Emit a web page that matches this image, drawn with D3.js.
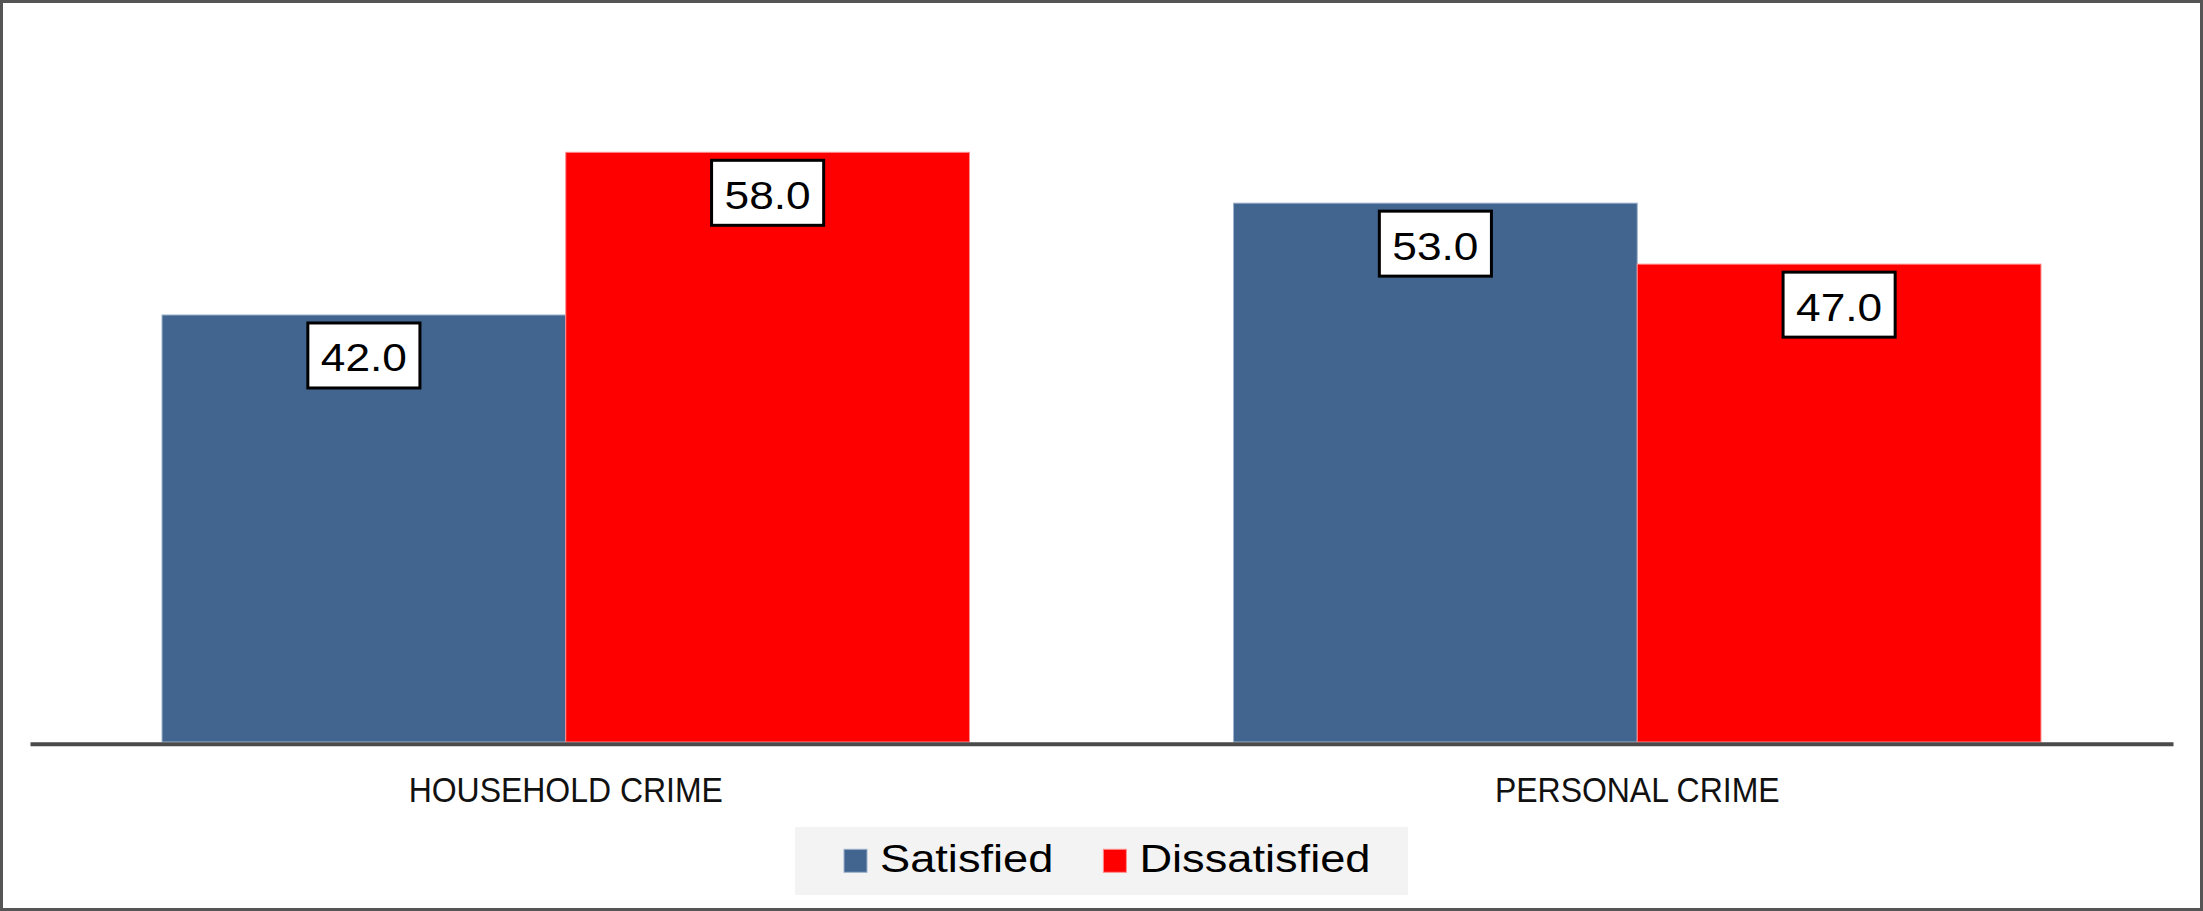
<!DOCTYPE html>
<html>
<head>
<meta charset="utf-8">
<script src="https://cdn.jsdelivr.net/npm/d3@7/dist/d3.min.js"></script>
<style>
  html, body { margin: 0; padding: 0; background: #ffffff; }
  svg { display: block; }
  text { font-family: "Liberation Sans", Arial, sans-serif; }
</style>
</head>
<body>
<svg id="chart" width="2203" height="911"></svg>
<script>
// ---- data ----
const categories = ["HOUSEHOLD CRIME", "PERSONAL CRIME"];
const seriesNames = ["Satisfied", "Dissatisfied"];
const satisfied = [42.0, 53.0];
const dissatisfied = [58.0, 47.0];
const seriesColors = ["#41658f", "#ff0000"];
const seriesStroke = ["#9db2cc", "#ff8c8c"];

const table = categories.map((c, i) => ({
  category: c,
  values: [
    { key: seriesNames[0], value: satisfied[i], idx: 0 },
    { key: seriesNames[1], value: dissatisfied[i], idx: 1 }
  ]
}));

const W = 2203, H = 911;
const svg = d3.select("#chart");

// outer border
svg.append("rect")
  .attr("x", 1.5).attr("y", 1.5)
  .attr("width", W - 3).attr("height", H - 3)
  .attr("fill", "#ffffff")
  .attr("stroke", "#555555").attr("stroke-width", 3);

const plotLeft = 30, plotRight = 2173, plotBottom = 742, plotTop = 30.3;

const x0 = d3.scaleBand().domain(categories).range([plotLeft, plotRight]).padding(0);
const x1 = d3.scaleBand().domain(seriesNames).range([0, x0.bandwidth()])
  .paddingInner(0).paddingOuter(0.327);
const y = d3.scaleLinear().domain([0, 70]).range([plotBottom, plotTop]);

// bars
const groups = svg.append("g").selectAll("g")
  .data(table).join("g")
  .attr("transform", d => `translate(${x0(d.category)},0)`);

groups.selectAll("rect")
  .data(d => d.values).join("rect")
  .attr("x", d => x1(d.key))
  .attr("y", d => y(d.value))
  .attr("width", x1.bandwidth())
  .attr("height", d => y(0) - y(d.value))
  .attr("fill", d => seriesColors[d.idx])
  .attr("stroke", d => seriesStroke[d.idx])
  .attr("stroke-width", 1);

// baseline axis
const xAxis = d3.axisBottom(x0).tickSize(0).tickPadding(0);
const axG = svg.append("g").attr("transform", `translate(0,${plotBottom + 1.8})`).call(xAxis);
axG.select(".domain").attr("stroke", "#4a4a4a").attr("stroke-width", 4);
axG.selectAll(".tick text").remove();

// category labels (real text)
svg.append("g").selectAll("text")
  .data(categories).join("text")
  .attr("transform", d => `translate(${x0(d) + x0.bandwidth() / 2},801.7) scale(0.9,1)`)
  .attr("text-anchor", "middle")
  .attr("font-size", 35.5)
  .attr("fill", "#111111")
  .text(d => d);

// data labels
const fmt = d3.format(".1f");
const labelScale = 1.12;
groups.each(function(g) {
  const sel = d3.select(this);
  g.values.forEach(d => {
    const cx = x1(d.key) + x1.bandwidth() / 2;
    const top = y(d.value) + 8;
    const lg = sel.append("g");
    const rect = lg.append("rect");
    const t = lg.append("text")
      .attr("transform", `translate(${cx},${top + 48.5}) scale(${labelScale},1)`)
      .attr("text-anchor", "middle")
      .attr("font-size", 39.5)
      .attr("fill", "#000000")
      .text(fmt(d.value));
    const tw = t.node().getComputedTextLength() * labelScale;
    const bw = tw + 26;
    rect.attr("x", cx - bw / 2).attr("y", top)
      .attr("width", bw).attr("height", 65)
      .attr("fill", "#ffffff")
      .attr("stroke", "#000000").attr("stroke-width", 3);
  });
});

// legend
const legX = 795, legY = 827, legW = 613, legH = 68;
const leg = svg.append("g");
leg.append("rect")
  .attr("x", legX).attr("y", legY).attr("width", legW).attr("height", legH)
  .attr("fill", "#f3f3f3");
const legScale = 1.19;
let cursor = legX + 49;
seriesNames.forEach((name, i) => {
  leg.append("rect")
    .attr("x", cursor).attr("y", 849.3)
    .attr("width", 23).attr("height", 23)
    .attr("fill", seriesColors[i])
    .attr("stroke", seriesStroke[i]).attr("stroke-width", 1);
  const tx = cursor + 36;
  const t = leg.append("text")
    .attr("transform", `translate(${tx},872.3) scale(${legScale},1)`)
    .attr("font-size", 38)
    .attr("fill", "#000000")
    .text(name);
  const tw = t.node().getComputedTextLength() * legScale;
  cursor = tx + tw + 50;
});
</script>
</body>
</html>
